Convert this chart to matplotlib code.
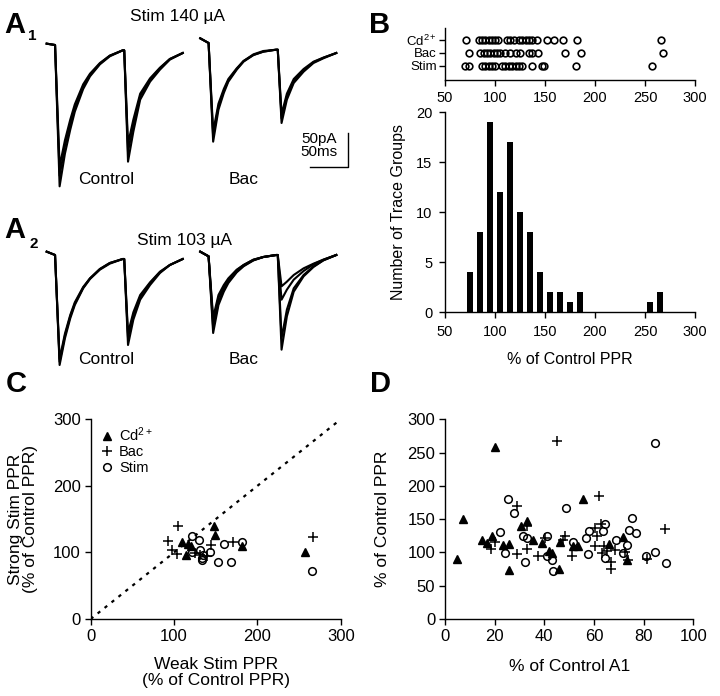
import numpy as np
import matplotlib
matplotlib.use('Agg')
import matplotlib.pyplot as plt

plt.rcParams['font.family'] = ['Liberation Sans', 'DejaVu Sans']
plt.rcParams['mathtext.fontset'] = 'custom'
plt.rcParams['mathtext.rm'] = 'Liberation Sans'
plt.rcParams['mathtext.it'] = 'Liberation Sans:italic'
plt.rcParams['mathtext.bf'] = 'Liberation Sans:bold'

W, H = 720, 696

# ---------------- data ----------------
# A: sweep sample times (ms) and currents (pA)
t_sweep = [0, 11, 17, 24, 31, 37, 48, 57, 70, 83, 100, 102, 107, 114, 123, 136, 149, 162, 179]
bac_offset = 202  # ms, Bac sweeps drawn right of Control

a1_control = [
    [2, 0, -212, -163, -127, -100, -66, -47, -29, -17, -8, -8, -175, -130, -82, -55, -37, -22, -12],
    [2, 0, -196, -152, -119, -94, -62, -45, -28, -16, -8, -8, -160, -120, -77, -52, -35, -21, -12],
    [2, 0, -182, -143, -112, -89, -59, -43, -27, -16, -8, -8, -148, -112, -73, -50, -34, -21, -12],
]
a1_bac = [
    [10, 3, -145, -97, -72, -55, -37, -25, -15, -10, -7, -7, -117, -82, -57, -40, -27, -20, -12],
    [10, 3, -137, -92, -69, -53, -36, -24, -15, -10, -7, -7, -110, -77, -54, -38, -26, -19, -12],
    [10, 3, -130, -88, -66, -51, -35, -24, -14, -9, -7, -7, -104, -73, -51, -36, -25, -19, -12],
]
a2_control = [
    [5, 0, -165, -125, -95, -75, -50, -36, -22, -13, -6, -6, -135, -97, -67, -45, -27, -15, -6],
    [5, 0, -160, -121, -92, -73, -49, -35, -21, -12, -6, -6, -124, -90, -63, -42, -26, -15, -6],
    [5, 0, -156, -118, -90, -71, -48, -35, -21, -12, -6, -6, -117, -86, -60, -41, -25, -15, -6],
]
a2_bac = [
    [5, -2, -117, -75, -55, -42, -26, -17, -8, -3, 0, 0, -142, -92, -55, -32, -18, -8, 0],
    [5, -2, -109, -70, -52, -40, -25, -16, -8, -3, 0, 0, -125, -82, -50, -30, -17, -8, 0],
    [5, -2, -100, -64, -48, -37, -23, -15, -7, -3, 0, 0, -67, -52, -37, -24, -14, -7, 0],
    [5, -2, -94, -60, -45, -35, -22, -15, -7, -3, 0, 0, -47, -40, -30, -20, -13, -7, 0],
]

# B: strip of individual values (% of control PPR)
strip_cd = [71, 84, 87, 90, 94, 97, 100, 103, 112, 115, 119, 124, 127, 131, 134, 137, 142, 152, 159, 168, 182, 266]
strip_bac = [74, 85, 89, 92, 95, 99, 102, 105, 110, 115, 121, 125, 134, 137, 143, 170, 186, 268]
strip_stim = [70, 74, 87, 90, 94, 97, 100, 107, 110, 114, 117, 121, 124, 127, 137, 147, 149, 181, 257]
strip_labels = ['Stim', 'Bac', 'Cd$^{2+}$']

hist_center = [75, 85, 95, 105, 115, 125, 135, 145, 155, 165, 175, 185, 255, 265]
hist_count = [4, 8, 19, 12, 17, 10, 8, 4, 2, 2, 1, 2, 1, 2]

# C: weak stim PPR vs strong stim PPR
c_cd_x = [110, 114, 117, 120, 148, 149, 181, 257]
c_cd_y = [115, 96, 112, 110, 139, 126, 109, 100]
c_bac_x = [93, 105, 98, 103, 125, 131, 139, 144, 171, 267]
c_bac_y = [117, 139, 103, 97, 99, 96, 94, 111, 116, 123]
c_stim_x = [122, 130, 121, 131, 133, 135, 133, 143, 160, 182, 153, 168, 266]
c_stim_y = [125, 118, 100, 103, 92, 96, 89, 100, 112, 115, 85, 85, 72]

# D: % of control A1 vs % of control PPR
d_cd_x = [4.7, 7.1, 14.8, 16.8, 18.8, 20.1, 23.5, 25.8, 25.8, 30.5, 33.2, 35.6, 38.9, 41.9,
          43.0, 46.0, 46.3, 51.7, 53.7, 55.4, 66.2, 71.5, 73.2]
d_cd_y = [90, 150, 119, 114, 125, 259, 111, 112, 74, 139, 147, 119, 114, 102,
          99, 75, 115, 110, 110, 181, 112, 123, 89]
d_bac_x = [18.4, 20.1, 28.9, 29.1, 32.9, 33.2, 37.6, 40.3, 45.0, 47.4, 48.3, 51.0, 60.4, 61.1,
           60.4, 62.1, 62.7, 63.1, 64.2, 65.4, 66.8, 66.8, 68.5, 72.5, 73.8, 81.5, 88.6]
d_bac_y = [105, 115, 170, 98, 139, 105, 94, 121, 267, 118, 125, 95, 136, 125,
           110, 185, 143, 99, 110, 102, 86, 75, 104, 101, 89, 90, 135]
d_stim_x = [22.1, 24.2, 25.5, 27.8, 31.5, 32.2, 32.9, 40.9, 41.2, 43.2, 43.6, 48.6, 51.7, 56.6,
            57.7, 58.1, 63.8, 64.4, 64.4, 68.9, 71.8, 73.4, 74.2, 75.2, 76.9, 80.8, 84.6, 84.7, 89.0]
d_stim_y = [131, 99, 181, 159, 124, 85, 121, 95, 125, 89, 72, 167, 115, 122,
            98, 132, 132, 143, 91, 119, 99, 111, 134, 152, 129, 95, 101, 265, 84]


def rect(l, t, r, b):
    return [l / W, 1 - b / H, (r - l) / W, (b - t) / H]


def ftext(x, y, s, **kw):
    fig.text(x / W, 1 - y / H, s, **kw)


def style(ax, lab=12, pad=3):
    for s in ['top', 'right']:
        ax.spines[s].set_visible(False)
    for s in ['left', 'bottom']:
        ax.spines[s].set_linewidth(1.0)
    ax.tick_params(direction='out', length=4, width=1.0, labelsize=lab, pad=pad)


fig = plt.figure(figsize=(W / 100, H / 100), dpi=100)

# ---------------- A1 / A2 traces ----------------
t = np.array(t_sweep)
for rc, ctl, bac in [((40, 30, 360, 195), a1_control, a1_bac),
                     ((40, 240, 360, 405), a2_control, a2_bac)]:
    ax = fig.add_axes(rect(*rc))
    for tr in ctl:
        ax.plot(t, tr, color='black', lw=1.5)
    for tr in bac:
        ax.plot(t + bac_offset, tr, color='black', lw=1.5)
    ax.set_xlim(-8.8, 412.2)
    ax.set_ylim(-225, 22.5)
    ax.axis('off')
    if ctl is a1_control:
        # scale bar 50 pA / 50 ms
        ax.plot([347, 397, 397], [-182.5, -182.5, -132.5], color='black', lw=1)
        ax.text(382, -141, '50pA', ha='right', va='center', fontsize=11)
        ax.text(382, -161, '50ms', ha='right', va='center', fontsize=11)

ftext(178, 17, 'Stim 140 \u00b5A', ha='center', va='center', fontsize=12.5)
ftext(106, 180, 'Control', ha='center', va='center', fontsize=12.5)
ftext(244, 180, 'Bac', ha='center', va='center', fontsize=12.5)
ftext(185, 240, 'Stim 103 \u00b5A', ha='center', va='center', fontsize=12.5)
ftext(106, 360, 'Control', ha='center', va='center', fontsize=12.5)
ftext(244, 360, 'Bac', ha='center', va='center', fontsize=12.5)

ftext(4, 33, 'A', fontsize=21, fontweight='bold', va='baseline')
ftext(28, 40, '1', fontsize=11, fontweight='bold', va='baseline')
ftext(4, 238, 'A', fontsize=21, fontweight='bold', va='baseline')
ftext(29, 248, '2', fontsize=11, fontweight='bold', va='baseline')
ftext(369, 33, 'B', fontsize=21, fontweight='bold', va='baseline')
ftext(6, 392, 'C', fontsize=21, fontweight='bold', va='baseline')
ftext(370, 392, 'D', fontsize=21, fontweight='bold', va='baseline')

# ---------------- B strip ----------------
axs = fig.add_axes(rect(445, 28, 695, 80))
for i, vals in enumerate([strip_stim, strip_bac, strip_cd]):
    axs.plot(vals, [i] * len(vals), 'o', mfc='none', mec='black', ms=4.8, mew=1.2)
axs.set_xlim(50, 300)
axs.set_ylim(-1.08, 2.92)
axs.set_yticks([0, 1, 2])
axs.set_yticklabels(strip_labels)
axs.set_xticks([50, 100, 150, 200, 250, 300])
style(axs, lab=9.5, pad=2)
axs.tick_params(axis='x', labelsize=10.5, pad=4)

# ---------------- B histogram ----------------
axh = fig.add_axes(rect(445, 112, 695, 312))
axh.bar(hist_center, hist_count, width=6.7, color='black')
axh.set_xlim(50, 300)
axh.set_ylim(0, 20)
axh.set_xticks([50, 100, 150, 200, 250, 300])
axh.set_yticks([0, 5, 10, 15, 20])
style(axh, lab=10.5, pad=5)
axh.set_xlabel('% of Control PPR', fontsize=11.5)
axh.xaxis.set_label_coords(0.5, -0.2)
axh.set_ylabel('Number of Trace Groups', fontsize=11.5)
axh.yaxis.set_label_coords(-0.156, 0.5)

# ---------------- C ----------------
axc = fig.add_axes(rect(90.7, 419.3, 340.7, 619))
axc.plot([0, 300], [0, 300], color='black', ls=(0, (1.5, 2.5)), lw=1.6)
axc.plot(c_cd_x, c_cd_y, '^', color='black', ms=5.5, label='Cd$^{2+}$')
axc.plot(c_bac_x, c_bac_y, '+', color='black', ms=7, mew=1.1, label='Bac')
axc.plot(c_stim_x, c_stim_y, 'o', mfc='none', mec='black', ms=5.5, mew=1.1, label='Stim')
axc.set_xlim(0, 300)
axc.set_ylim(0, 300)
axc.set_xticks([0, 100, 200, 300])
axc.set_yticks([0, 100, 200, 300])
style(axc, lab=12, pad=3)
axc.set_xlabel('Weak Stim PPR\n(% of Control PPR)', fontsize=12.5, linespacing=1.05)
axc.xaxis.set_label_coords(0.5, -0.19)
axc.set_ylabel('Strong Stim PPR\n(% of Control PPR)', fontsize=12.5, linespacing=1.05)
axc.yaxis.set_label_coords(-0.21, 0.5)
axc.legend(loc='upper left', bbox_to_anchor=(0.02, 1.0), frameon=False, fontsize=10.5,
           handlelength=0.8, handletextpad=0.4, labelspacing=0.1, borderaxespad=0,
           numpoints=1)

# ---------------- D ----------------
axd = fig.add_axes(rect(445, 419.3, 693.3, 619))
axd.plot(d_cd_x, d_cd_y, '^', color='black', ms=5.5)
axd.plot(d_bac_x, d_bac_y, '+', color='black', ms=7, mew=1.1)
axd.plot(d_stim_x, d_stim_y, 'o', mfc='none', mec='black', ms=5.5, mew=1.1)
axd.set_xlim(0, 100)
axd.set_ylim(0, 300)
axd.set_xticks([0, 20, 40, 60, 80, 100])
axd.set_yticks([0, 50, 100, 150, 200, 250, 300])
style(axd, lab=12, pad=3)
axd.set_xlabel('% of Control A1', fontsize=12.5)
axd.xaxis.set_label_coords(0.5, -0.2)
axd.set_ylabel('% of Control PPR', fontsize=12.5)
axd.yaxis.set_label_coords(-0.22, 0.5)

plt.savefig('out.png', dpi=100)
